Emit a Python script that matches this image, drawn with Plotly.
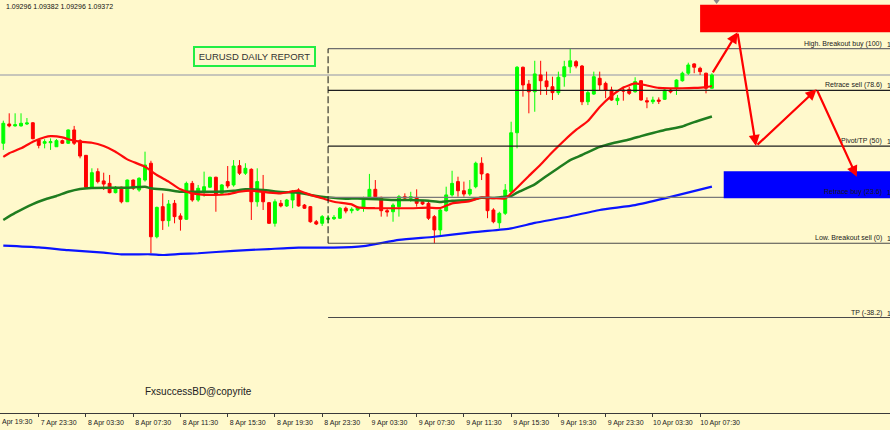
import pandas as pd
import plotly.graph_objects as go

# ---------------- data ----------------
times = pd.date_range("2020-04-07 20:30", periods=121, freq="30min")
tick_times = pd.date_range("2020-04-07 23:30", "2020-04-10 07:30", freq="4h")

opens = [1.08982, 1.09092, 1.09081, 1.09081, 1.09092, 1.09099, 1.09001, 1.08982, 1.08985, 1.08962,
         1.08997, 1.08982, 1.09058, 1.08997, 1.08913, 1.08731, 1.08820, 1.08767, 1.08753, 1.08700,
         1.08731, 1.08648, 1.08772, 1.08715, 1.08772, 1.08868, 1.08448, 1.08620, 1.08540, 1.08639,
         1.08567, 1.08548, 1.08753, 1.08658, 1.08711, 1.08731, 1.08788, 1.08696, 1.08763, 1.08744,
         1.08854, 1.08811, 1.08833, 1.08648, 1.08705, 1.08643, 1.08525, 1.08639, 1.08624, 1.08658,
         1.08715, 1.08629, 1.08620, 1.08534, 1.08525, 1.08548, 1.08551, 1.08554, 1.08611, 1.08597,
         1.08601, 1.08611, 1.08668, 1.08719, 1.08673, 1.08597, 1.08591, 1.08620, 1.08677, 1.08668,
         1.08673, 1.08648, 1.08639, 1.08563, 1.08487, 1.08597, 1.08687, 1.08763, 1.08711, 1.08692,
         1.08734, 1.08868, 1.08807, 1.08601, 1.08528, 1.08582, 1.08705, 1.09042, 1.09416, 1.09320,
         1.09276, 1.09372, 1.09338, 1.09305, 1.09271, 1.09362, 1.09419, 1.09448, 1.09423, 1.09219,
         1.09263, 1.09353, 1.09324, 1.09286, 1.09225, 1.09286, 1.09290, 1.09276, 1.09339, 1.09225,
         1.09219, 1.09229, 1.09233, 1.09286, 1.09296, 1.09339, 1.09382, 1.09435, 1.09410, 1.09382,
         1.09296]
highs = [1.09111, 1.09153, 1.09153, 1.09153, 1.09126, 1.09103, 1.09006, 1.09005, 1.09010, 1.09006,
         1.09003, 1.09061, 1.09081, 1.09005, 1.08915, 1.08839, 1.08839, 1.08814, 1.08801, 1.08738,
         1.08734, 1.08775, 1.08775, 1.08788, 1.08934, 1.08882, 1.08620, 1.08696, 1.08658, 1.08658,
         1.08582, 1.08763, 1.08767, 1.08744, 1.08820, 1.08791, 1.08791, 1.08749, 1.08852, 1.08886,
         1.08886, 1.08868, 1.08839, 1.08839, 1.08801, 1.08647, 1.08662, 1.08658, 1.08664, 1.08715,
         1.08725, 1.08635, 1.08624, 1.08544, 1.08572, 1.08572, 1.08572, 1.08618, 1.08620, 1.08616,
         1.08624, 1.08677, 1.08807, 1.08772, 1.08677, 1.08611, 1.08639, 1.08687, 1.08696, 1.08705,
         1.08719, 1.08658, 1.08648, 1.08572, 1.08611, 1.08734, 1.08825, 1.08791, 1.08763, 1.08772,
         1.08877, 1.08902, 1.08811, 1.08611, 1.08591, 1.08749, 1.09105, 1.09423, 1.09420, 1.09343,
         1.09453, 1.09453, 1.09391, 1.09362, 1.09391, 1.09453, 1.09522, 1.09457, 1.09429, 1.09286,
         1.09391, 1.09391, 1.09334, 1.09305, 1.09258, 1.09305, 1.09305, 1.09359, 1.09343, 1.09244,
         1.09248, 1.09244, 1.09290, 1.09296, 1.09347, 1.09391, 1.09442, 1.09439, 1.09419, 1.09385,
         1.09382]
lows = [1.08944, 1.09073, 1.09077, 1.09077, 1.09086, 1.09005, 1.08953, 1.08953, 1.08944, 1.08961,
        1.08978, 1.08978, 1.08972, 1.08896, 1.08727, 1.08727, 1.08753, 1.08715, 1.08696, 1.08696,
        1.08639, 1.08647, 1.08715, 1.08705, 1.08763, 1.08354, 1.08439, 1.08487, 1.08506, 1.08525,
        1.08483, 1.08544, 1.08648, 1.08648, 1.08677, 1.08727, 1.08591, 1.08692, 1.08725, 1.08734,
        1.08801, 1.08801, 1.08544, 1.08620, 1.08601, 1.08521, 1.08506, 1.08616, 1.08618, 1.08611,
        1.08620, 1.08607, 1.08528, 1.08515, 1.08510, 1.08525, 1.08544, 1.08550, 1.08582, 1.08582,
        1.08595, 1.08591, 1.08658, 1.08658, 1.08563, 1.08563, 1.08534, 1.08563, 1.08658, 1.08648,
        1.08620, 1.08629, 1.08544, 1.08411, 1.08448, 1.08591, 1.08677, 1.08677, 1.08677, 1.08681,
        1.08725, 1.08772, 1.08554, 1.08525, 1.08496, 1.08572, 1.08696, 1.08953, 1.09248, 1.09153,
        1.09162, 1.09258, 1.09258, 1.09229, 1.09258, 1.09305, 1.09382, 1.09410, 1.09200, 1.09200,
        1.09258, 1.09286, 1.09239, 1.09225, 1.09200, 1.09225, 1.09258, 1.09271, 1.09225, 1.09182,
        1.09206, 1.09206, 1.09229, 1.09267, 1.09258, 1.09334, 1.09372, 1.09382, 1.09372, 1.09267,
        1.09296]
closes = [1.09096, 1.09081, 1.09088, 1.09096, 1.09098, 1.09008, 1.08970, 1.08991, 1.08991, 1.08997,
          1.08982, 1.09058, 1.08982, 1.08909, 1.08731, 1.08814, 1.08763, 1.08749, 1.08700, 1.08731,
          1.08648, 1.08772, 1.08725, 1.08782, 1.08858, 1.08448, 1.08616, 1.08540, 1.08635, 1.08563,
          1.08548, 1.08753, 1.08658, 1.08725, 1.08734, 1.08788, 1.08687, 1.08744, 1.08738, 1.08852,
          1.08811, 1.08839, 1.08648, 1.08763, 1.08648, 1.08525, 1.08648, 1.08624, 1.08658, 1.08700,
          1.08624, 1.08611, 1.08534, 1.08521, 1.08563, 1.08554, 1.08559, 1.08611, 1.08595, 1.08605,
          1.08616, 1.08658, 1.08719, 1.08677, 1.08597, 1.08590, 1.08629, 1.08677, 1.08669, 1.08677,
          1.08639, 1.08635, 1.08554, 1.08487, 1.08601, 1.08687, 1.08753, 1.08711, 1.08692, 1.08719,
          1.08868, 1.08807, 1.08597, 1.08534, 1.08582, 1.08715, 1.09042, 1.09416, 1.09315, 1.09276,
          1.09378, 1.09339, 1.09305, 1.09271, 1.09359, 1.09419, 1.09453, 1.09423, 1.09219, 1.09271,
          1.09362, 1.09315, 1.09286, 1.09229, 1.09239, 1.09280, 1.09267, 1.09334, 1.09229, 1.09218,
          1.09229, 1.09222, 1.09286, 1.09275, 1.09343, 1.09382, 1.09429, 1.09416, 1.09391, 1.09296,
          1.09372]

# moving averages, read at selected candle indices
red_idx = [0, 1, 3, 5, 7, 8, 10, 11, 13, 15, 17, 19, 21, 24, 26, 28, 30, 32, 35, 38,
           40, 42, 45, 47, 50, 52, 54, 56, 59, 60, 63, 66, 69, 72, 74, 76, 79, 81, 83, 85,
           86, 87, 89, 91, 93, 95, 97, 99, 101, 103, 105, 107, 109, 111, 113, 115, 117, 119, 120]
red_ma = [1.08904, 1.08925, 1.08953, 1.08991, 1.09016, 1.09023, 1.09016, 1.09005, 1.08991, 1.08985,
          1.08966, 1.08934, 1.08890, 1.08848, 1.08801, 1.08763, 1.08719, 1.08696, 1.08687, 1.08691,
          1.08705, 1.08711, 1.08700, 1.08696, 1.08711, 1.08687, 1.08668, 1.08648, 1.08633, 1.08616,
          1.08611, 1.08611, 1.08611, 1.08614, 1.08612, 1.08639, 1.08652, 1.08673, 1.08669, 1.08667,
          1.08696, 1.08728, 1.08795, 1.08861, 1.08932, 1.08998, 1.09058, 1.09109, 1.09189, 1.09252,
          1.09300, 1.09324, 1.09312, 1.09298, 1.09296, 1.09296, 1.09298, 1.09303, 1.09309]

green_idx = [0, 2, 5, 7, 9, 11, 13, 15, 18, 21, 24, 25, 28, 30, 33, 36, 39, 41, 44, 47,
             50, 52, 55, 58, 60, 66, 69, 72, 74, 76, 79, 81, 83, 85, 86, 87, 90, 92, 94, 96,
             98, 101, 103, 106, 108, 110, 112, 115, 117, 120]
green_ma = [1.08544, 1.08584, 1.08635, 1.08661, 1.08681, 1.08705, 1.08721, 1.08727, 1.08728, 1.08728,
            1.08734, 1.08725, 1.08715, 1.08705, 1.08705, 1.08705, 1.08711, 1.08719, 1.08715, 1.08704,
            1.08700, 1.08687, 1.08673, 1.08665, 1.08667, 1.08658, 1.08658, 1.08654, 1.08647, 1.08654,
            1.08658, 1.08671, 1.08669, 1.08677, 1.08680, 1.08700, 1.08747, 1.08795, 1.08841, 1.08886,
            1.08915, 1.08961, 1.08981, 1.09003, 1.09023, 1.09041, 1.09058, 1.09078, 1.09103, 1.09135]

blue_idx = [0, 6, 11, 17, 20, 25, 27, 30, 33, 39, 45, 50, 56, 61, 67, 73, 79, 86, 90, 95,
            101, 107, 112, 120]
blue_ma = [1.08397, 1.08387, 1.08372, 1.08357, 1.08348, 1.08348, 1.08344, 1.08350, 1.08354, 1.08368,
           1.08378, 1.08386, 1.08386, 1.08395, 1.08430, 1.08448, 1.08472, 1.08496, 1.08527, 1.08558,
           1.08601, 1.08629, 1.08667, 1.08734]

# daily fibonacci levels (prices) and labels
fib_start = "2020-04-09 00:00"
fib_prices = [1.09522, 1.09284, 1.08966, 1.08673, 1.08411, 1.07987]
fib_labels = ["High. Breakout buy (100)", "Retrace sell (78.6)", "Pivot/TP (50)",
              "Retrace buy (23.6)", "Low. Breakout sell (0)", "TP (-38.2)"]
fib_colors = ["#6e6e6e", "#1e1e1e", "#1e1e1e", "#7a7a7a", "#4a4a4a", "#4a4a4a"]
price_stub = "1"          # only the first digit of each level price is visible
left_tick_text = "Apr 19:30"   # visible part of the first time label

current_price = 1.09372
ohlc_text = "1.09296 1.09382 1.09296 1.09372"

# zones and projected path
sell_zone_start, sell_zone = "2020-04-10 07:30", [1.09616, 1.09773]
buy_zone_start, buy_zone = "2020-04-10 09:30", [1.08668, 1.08822]
path_times = ["2020-04-10 08:30", "2020-04-10 10:40", "2020-04-10 12:14",
              "2020-04-10 17:22", "2020-04-10 20:46"]
path_prices = [1.09378, 1.09616, 1.08966, 1.09290, 1.08791]

x_range = ["2020-04-07 20:13:12", "2020-04-10 23:34:48"]
y_range = [1.074418, 1.0980]
far_right = "2020-04-11 12:00"

BG = "#FFF9CC"
FONT = "Liberation Sans, Arial, sans-serif"

# ---------------- figure ----------------
fig = go.Figure()

fig.add_trace(go.Candlestick(
    x=times, open=opens, high=highs, low=lows, close=closes,
    increasing=dict(line=dict(color="#00ff00", width=1), fillcolor="#00ff00"),
    decreasing=dict(line=dict(color="#ff0000", width=1), fillcolor="#ff0000"),
    whiskerwidth=0, showlegend=False, hoverinfo="skip"))

for idx, vals, color, w in [(blue_idx, blue_ma, "#0a14ff", 2.2),
                            (green_idx, green_ma, "#1f7d1f", 2.5),
                            (red_idx, red_ma, "#ff0a0a", 2.2)]:
    fig.add_trace(go.Scatter(
        x=[times[i] for i in idx], y=vals, mode="lines",
        line=dict(color=color, width=w, shape="spline", smoothing=0.5),
        showlegend=False, hoverinfo="skip"))

# small marker at top (chart shift)
fig.add_trace(go.Scatter(x=["2020-04-10 08:54"], y=[y_range[1]], mode="markers",
                         marker=dict(symbol="triangle-down", size=8, color="#8a8a8a"),
                         showlegend=False, hoverinfo="skip"))

shapes = []
# current bid line
shapes.append(dict(type="line", xref="paper", x0=0, x1=1, yref="y",
                   y0=current_price, y1=current_price,
                   line=dict(color="#b4b4b4", width=1.5), layer="below"))
# fib lines
for p, c in zip(fib_prices, fib_colors):
    shapes.append(dict(type="line", xref="x", x0=fib_start, x1=far_right, yref="y",
                       y0=p, y1=p, line=dict(color=c, width=1.2), layer="above"))
# dashed vertical at day start
shapes.append(dict(type="line", xref="x", x0=fib_start, x1=fib_start, yref="y",
                   y0=fib_prices[4], y1=fib_prices[0],
                   line=dict(color="#111111", width=1, dash="7px,3px"), layer="above"))
# zones
shapes.append(dict(type="rect", xref="x", x0=sell_zone_start, x1=far_right, yref="y",
                   y0=sell_zone[0], y1=sell_zone[1], fillcolor="#ff0000",
                   line=dict(width=0), layer="above"))
shapes.append(dict(type="rect", xref="x", x0=buy_zone_start, x1=far_right, yref="y",
                   y0=buy_zone[0], y1=buy_zone[1], fillcolor="#0000ff",
                   line=dict(width=0), layer="above"))

annotations = []
for p, lab in zip(fib_prices, fib_labels):
    annotations.append(dict(text=lab, xref="paper", x=883 / 890, xanchor="right",
                            yref="y", y=p, yanchor="bottom", showarrow=False,
                            font=dict(family=FONT, size=7, color="#1a1a1a"), borderpad=0))
    annotations.append(dict(text=price_stub, xref="paper", x=885.5 / 890, xanchor="left",
                            yref="y", y=p, yanchor="bottom", showarrow=False,
                            font=dict(family=FONT, size=7, color="#1a1a1a"), borderpad=0))

for i in range(len(path_times) - 1):
    annotations.append(dict(text="", x=path_times[i + 1], y=path_prices[i + 1],
                            ax=path_times[i], ay=path_prices[i], xref="x", yref="y",
                            axref="x", ayref="y", showarrow=True, arrowhead=2,
                            arrowsize=1.0, arrowwidth=2.2, arrowcolor="#ff0000",
                            standoff=0, startstandoff=0))

annotations.append(dict(text=ohlc_text, xref="paper", x=4 / 890, xanchor="left",
                        yref="paper", y=1 - 6 / 413, yanchor="middle", showarrow=False,
                        font=dict(family=FONT, size=7, color="#111111")))
annotations.append(dict(text="EURUSD DAILY REPORT", xref="paper", x=254.5 / 890,
                        xanchor="center", yref="paper", y=1 - 56.5 / 413, yanchor="middle",
                        showarrow=False, width=119, height=17, borderpad=0, borderwidth=2,
                        bordercolor="#22ee44",
                        font=dict(family=FONT, size=9.5, color="#333333")))
annotations.append(dict(text="FxsuccessBD@copyrite", xref="paper", x=198 / 890,
                        xanchor="center", yref="paper", y=1 - 391.7 / 413, yanchor="middle",
                        showarrow=False, font=dict(family=FONT, size=10, color="#222222")))
annotations.append(dict(text=left_tick_text, xref="paper", x=0.5 / 890, xanchor="left",
                        yref="paper", y=-(421.5 - 413) / 413, yanchor="middle",
                        showarrow=False, font=dict(family=FONT, size=7, color="#222222"),
                        borderpad=0))

fig.update_layout(
    width=890, height=430,
    margin=dict(l=0, r=0, t=0, b=17, pad=0),
    paper_bgcolor=BG, plot_bgcolor=BG, showlegend=False,
    font=dict(family=FONT, size=7, color="#222222"),
    shapes=shapes, annotations=annotations,
    xaxis=dict(type="date", range=x_range, rangeslider=dict(visible=False),
               showgrid=False, zeroline=False, showline=True, linecolor="#3a3a3a",
               linewidth=1, ticks="outside", ticklen=3, tickcolor="#3a3a3a", tickwidth=1,
               tickmode="array", tickvals=list(tick_times), tickformat="%-d %b %H:%M",
               tickfont=dict(family=FONT, size=7, color="#222222"), ticklabelshift=20,
               fixedrange=True),
    yaxis=dict(range=y_range, visible=False, showgrid=False, zeroline=False, fixedrange=True),
)

fig.write_html("out.html", config={"displayModeBar": False, "staticPlot": True},
               post_script="document.body.style.margin='0px';"
                           "document.body.style.background='" + BG + "';")
